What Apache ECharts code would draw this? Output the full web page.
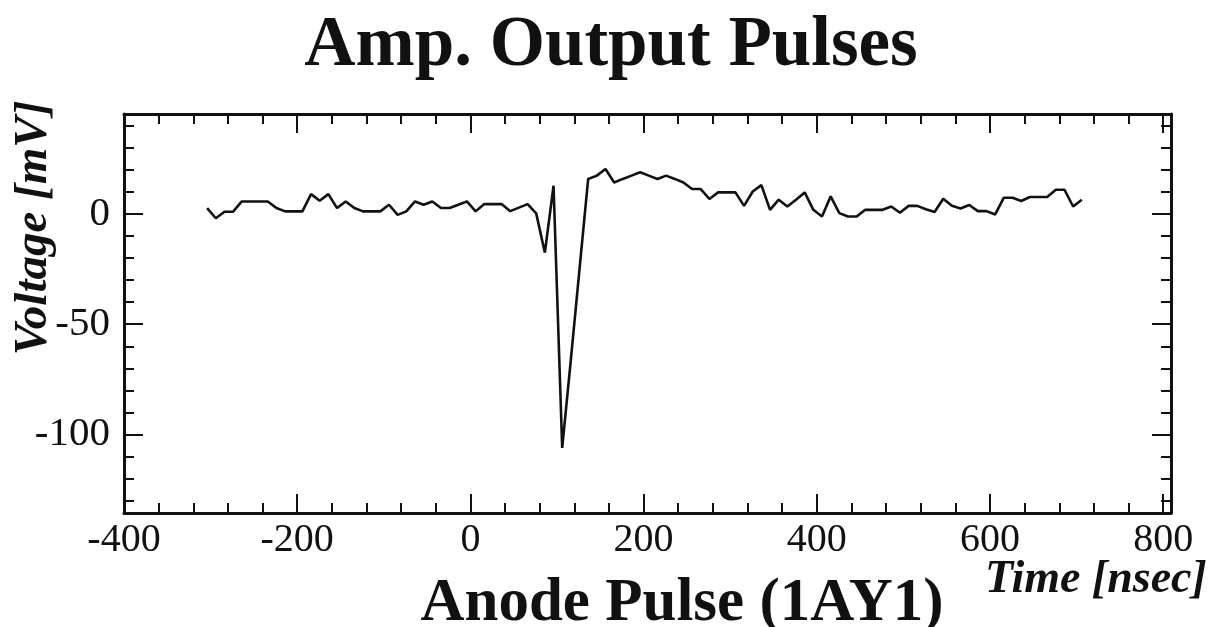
<!DOCTYPE html>
<html>
<head>
<meta charset="utf-8">
<script src="https://cdn.jsdelivr.net/npm/echarts@6/dist/echarts.min.js"></script>
<style>
html,body{margin:0;padding:0;background:#fff;}
#chart{width:1218px;height:627px;}
</style>
</head>
<body>
<div id="chart"></div>
<script>
// Sample times [nsec]
const times = [-304,-294,-284,-274,-264,-254,-244,-234,-224,-214,-204,-194,-184,-174,-164,-154,-144,-134,-124,-114,
  -104,-94,-84,-74,-64,-54,-44,-34,-24,-14,-4,6,16,26,36,46,56,66,76,86,
  96,106,116,126,136,146,156,166,176,186,196,206,216,226,236,246,256,266,276,286,
  296,306,316,326,336,346,356,366,376,386,396,406,416,426,436,446,456,466,476,486,
  496,506,516,526,536,546,556,566,576,586,596,606,616,626,636,646,656,666,676,686,
  696,706];
// Voltage [mV]
const voltages = [2.6,-2.0,0.9,1.0,5.6,5.6,5.6,5.6,2.6,1.1,1.1,1.1,8.9,5.9,8.9,2.6,5.6,2.6,1.1,1.1,
  1.1,4.1,-0.5,1.1,5.6,4.1,5.6,2.6,2.6,4.1,5.6,1.1,4.4,4.4,4.4,1.2,2.8,4.4,0.2,-17.6,
  12.7,-106,-66,-25,15.8,17.3,20.3,14.2,15.8,17.3,18.8,17.3,15.8,17.3,15.8,14.2,11.2,11.2,6.7,9.7,
  9.7,9.7,3.6,10.1,13.0,1.8,6.4,3.3,6.4,9.7,1.8,-1.2,7.9,0.3,-1.2,-1.2,1.8,1.8,1.8,3.3,
  0.5,3.6,3.6,2.1,0.8,6.8,3.6,2.4,4.0,1.2,1.2,-0.3,7.3,7.3,5.8,7.6,7.6,7.6,10.9,10.9,
  3.3,6.4];
const xMajorTicks = [-400,-200,0,200,400,600,800];
const xMinorTicks = [-360,-320,-280,-240,-160,-120,-80,-40,40,80,120,160,240,280,320,360,440,480,520,560,640,680,720,760];
const yMajorTicks = [-100,-50,0];
const yMinorTicks = [-130,-120,-110,-90,-80,-70,-60,-40,-30,-20,-10,10,20,30,40];
const xMin = -400, xMax = 809, yMin = -135.5, yMax = 45.2;

const chartTitle = 'Amp. Output Pulses';
const xName = 'Anode Pulse (1AY1)';
const xUnit = 'Time [nsec]';
const yName = 'Voltage [mV]';

const SERIF = '"Liberation Serif","Times New Roman",serif';
const INK = '#111';

const gridRect = {left:124, top:114, width:1047, height:399};
function xAx(g, pos, ticks, len, labels, line){
  return {type:'value', gridIndex:g, position:pos, min:xMin, max:xMax,
    axisLine:{show:line, onZero:false, lineStyle:{color:INK, width:3}},
    axisTick:{show:true, inside:true, length:len, customValues:ticks, lineStyle:{color:INK, width:2}},
    axisLabel: labels ? {show:true, customValues:labels, margin:7, color:INK, fontFamily:SERIF, fontSize:40} : {show:false},
    splitLine:{show:false}};
}
function yAx(g, pos, ticks, len, labels, line){
  return {type:'value', gridIndex:g, position:pos, min:yMin, max:yMax,
    axisLine:{show:line, onZero:false, lineStyle:{color:INK, width:3}},
    axisTick:{show:true, inside:true, length:len, customValues:ticks, lineStyle:{color:INK, width:2}},
    axisLabel: labels ? {show:true, customValues:labels, margin:14, color:INK, fontFamily:SERIF, fontSize:41} : {show:false},
    splitLine:{show:false}};
}

const chart = echarts.init(document.getElementById('chart'), null, {renderer:'canvas'});
chart.setOption({
  animation:false,
  backgroundColor:'#fff',
  grid:[gridRect, gridRect, gridRect, gridRect].map(r => Object.assign({containLabel:false}, r)),
  xAxis:[
    xAx(0,'bottom',xMajorTicks,19,xMajorTicks,true),
    xAx(1,'bottom',xMinorTicks,10,null,false),
    xAx(2,'top',xMajorTicks,19,null,true),
    xAx(3,'top',xMinorTicks,10,null,false)
  ],
  yAxis:[
    yAx(0,'left',yMajorTicks,19,yMajorTicks,true),
    yAx(1,'left',yMinorTicks,10,null,false),
    yAx(2,'right',yMajorTicks,19,null,true),
    yAx(3,'right',yMinorTicks,10,null,false)
  ],
  series:[{
    type:'line', xAxisIndex:0, yAxisIndex:0,
    data: times.map((t,i)=>[t, voltages[i]]),
    showSymbol:false, symbol:'none',
    lineStyle:{color:INK, width:2.6},
    z:5
  }],
  graphic:[
    {type:'text', x:611, y:47,
      style:{text:chartTitle, font:'bold 71px ' + SERIF, fill:INK, align:'center', verticalAlign:'middle'}},
    {type:'text', x:682, y:604,
      style:{text:xName, font:'bold 61px ' + SERIF, fill:INK, align:'center', verticalAlign:'middle'}},
    {type:'text', x:985, y:580,
      style:{text:xUnit, font:'italic bold 46px ' + SERIF, fill:INK, align:'left', verticalAlign:'middle'}},
    {type:'text', x:34, y:228, rotation:Math.PI/2,
      style:{text:yName, font:'italic bold 47px ' + SERIF, fill:INK, align:'center', verticalAlign:'middle'}}
  ]
});
</script>
</body>
</html>
